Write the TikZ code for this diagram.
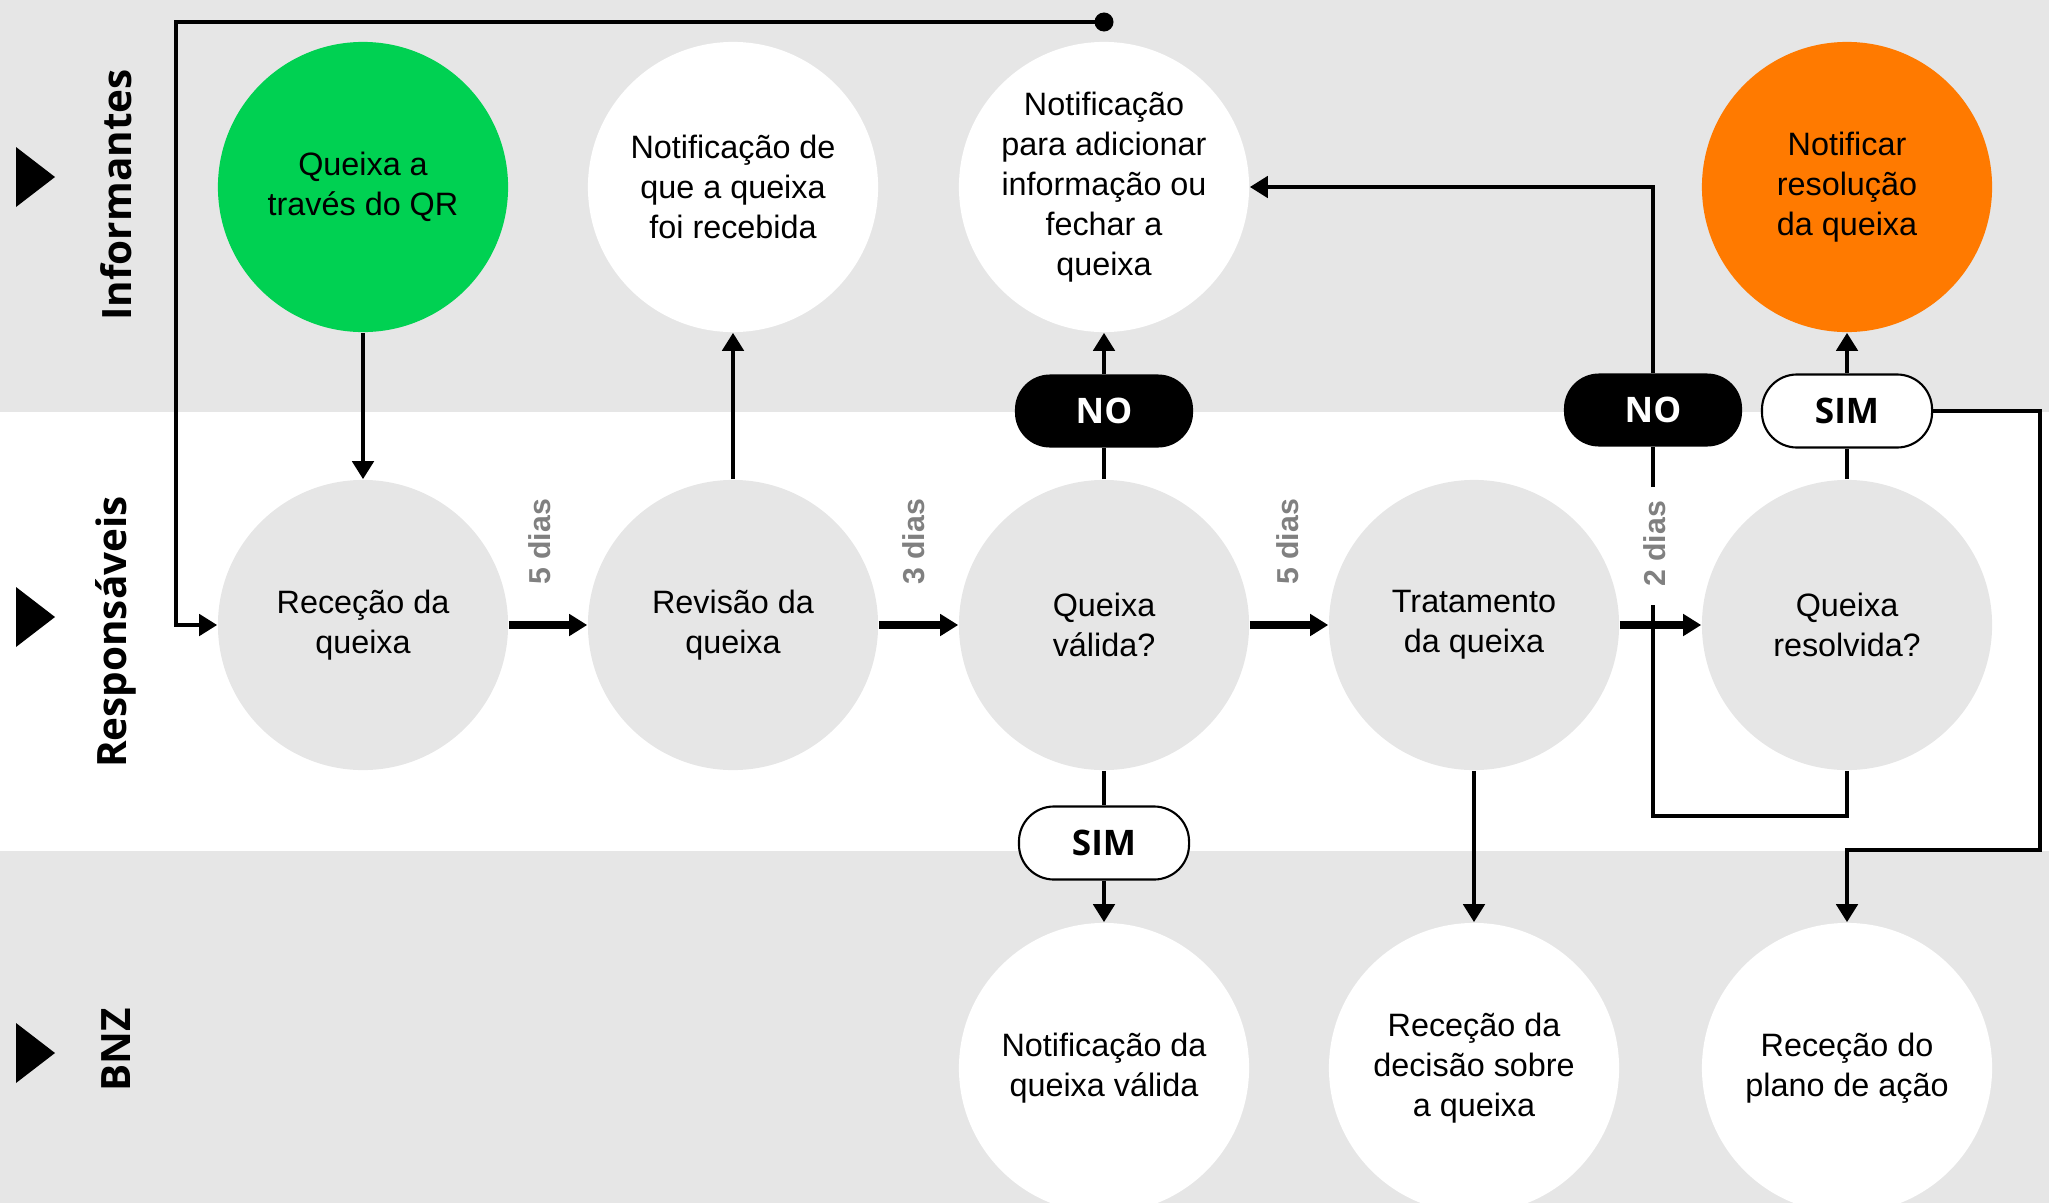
\documentclass[tikz,border=0pt]{standalone}
\usepackage{fontspec}
\setmainfont{Liberation Sans}
\newfontfamily\lanefont{Open Sans}
\usetikzlibrary{arrows.meta}

\definecolor{bandgray}{RGB}{230,230,230}
\definecolor{qrgreen}{RGB}{0,209,82}
\definecolor{fixorange}{RGB}{255,122,0}
\definecolor{daygray}{RGB}{128,128,128}

\begin{document}
\begin{tikzpicture}[x=0.01cm,y=-0.01cm,line join=miter,
  stage/.style={circle,minimum size=2.9cm,inner sep=0pt,align=center,font=\fontsize{9.2}{11.4}\selectfont},
  pill/.style={rectangle,rounded corners=0.35cm,minimum height=0.73cm,inner sep=0pt,font=\lanefont\bfseries\fontsize{10}{12}\selectfont},
  nopill/.style={pill,minimum width=1.78cm,fill=black,text=white},
  simpill/.style={pill,minimum width=1.7cm,fill=white,draw=black,line width=0.6pt},
  days/.style={rotate=90,text=daygray,font=\bfseries\fontsize{8.6}{10}\selectfont},
  lane/.style={rotate=90,font=\lanefont\bfseries\fontsize{11.5}{13}\selectfont},
  link/.style={line width=1.4pt},
  flow/.style={link,-{Triangle[length=0.18cm,width=0.21cm]}}]
\useasboundingbox (0,0) rectangle (2049,1203);
\clip (0,0) rectangle (2049,1203);
\fill[bandgray] (0,0) rectangle (2049,412);
\fill[bandgray] (0,851) rectangle (2049,1203);

\foreach \ty in {177,617,1053}
  \fill (16,{\ty-30}) -- (55,\ty) -- (16,{\ty+30}) -- cycle;
\node[lane] (informantes) at (116,195) {Informantes};
\node[lane] (responsaveis) at (116,632) {Responsáveis};
\node[lane] (bnz) at (116,1050) {BNZ};

\node[stage,fill=qrgreen] (qr) at (363,187) {Queixa a\\través do QR};
\node[stage,fill=white] (notrec) at (733,187) {Notificação de\\que a queixa\\foi recebida};
\node[stage,fill=white] (notadd) at (1104,187) {Notificação\\para adicionar\\informação ou\\fechar a\\queixa};
\node[stage,fill=fixorange] (notres) at (1847,187) {Notificar\\resolução\\da queixa};

\node[stage,fill=bandgray] (rec) at (363,625) {Receção da\\queixa};
\node[stage,fill=bandgray] (rev) at (733,625) {Revisão da\\queixa};
\node[stage,fill=bandgray] (val) at (1104,625) {Queixa\\válida?};
\node[stage,fill=bandgray] (trat) at (1474,625) {Tratamento\\da queixa};
\node[stage,fill=bandgray] (res) at (1847,625) {Queixa\\resolvida?};

\node[stage,fill=white] (notval) at (1104,1068) {Notificação da\\queixa válida};
\node[stage,fill=white] (decis) at (1474,1068) {Receção da\\decisão sobre\\a queixa};
\node[stage,fill=white] (plano) at (1847,1068) {Receção do\\plano de ação};

\node[nopill] (noval) at (1104,411) {NO};
\node[simpill] (simval) at (1104,843) {SIM};
\node[nopill] (nores) at (1653,410) {NO};
\node[simpill] (simres) at (1847,411) {SIM};

\node[days] (d1) at (540,542) {5 dias};
\node[days] (d2) at (914,542) {3 dias};
\node[days] (d3) at (1288,542) {5 dias};
\node[days] (d4) at (1655,544) {2 dias};

\node[circle,fill=black,inner sep=0pt,minimum size=0.19cm] (topdot) at (1104,22) {};
\coordinate (loopleft) at (176,22);
\coordinate (rightturn) at (2040,850);
\coordinate (loopcorner) at (1653,816);
\coordinate (gaplow) at (1653,605);
\coordinate (gaphigh) at (1653,487);

\draw[flow] (topdot.center) -- (loopleft) |- (rec.west);
\draw[flow] (qr.south) -- (rec.north);
\draw[flow] (rev.north) -- (notrec.south);
\foreach \a/\b in {rec/rev,rev/val,val/trat,trat/res}
  \draw[flow,line width=2pt] (\a) -- (\b);

\draw[link] (val.north) -- (noval.south);
\draw[flow] (noval.north) -- (notadd.south);
\draw[link] (val.south) -- (simval.north);
\draw[flow] (simval.south) -- (notval.north);
\draw[flow] (trat.south) -- (decis.north);

\draw[link] (res.south) |- (loopcorner) -- (gaplow);
\draw[link] (gaphigh) -- (nores.south);
\draw[flow] (nores.north) |- (notadd.east);

\draw[link] (res.north) -- (simres.south);
\draw[flow] (simres.north) -- (notres.south);
\draw[flow] (simres.east) -| (rightturn) -| (plano.north);
\end{tikzpicture}
\end{document}
